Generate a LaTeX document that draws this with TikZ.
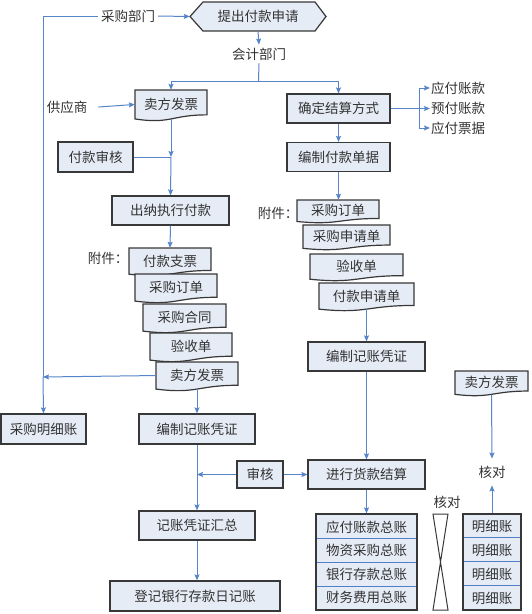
\documentclass[tikz,border=0pt]{standalone}
\usepackage{fontspec}
\setmainfont{Noto Sans CJK SC}
\usetikzlibrary{arrows.meta,calc}
\definecolor{boxfill}{HTML}{E6ECF6}
\definecolor{boxline}{HTML}{383838}
\definecolor{flow}{HTML}{5585C8}
\definecolor{txtc}{HTML}{333333}
\definecolor{sepc}{HTML}{4F7FC6}
\tikzset{
  base/.style={font=\fontsize{13.5}{15}\selectfont, text=txtc, inner sep=0pt},
  box/.style={base, draw=boxline, fill=boxfill, line width=1.2pt},
  docsty/.style={draw=boxline, fill=boxfill, line width=1.2pt},
  docnode/.style={base},
  plain/.style={base},
  flowline/.style={draw=flow, line width=1pt},
  flowarrow/.style={flowline, -{Stealth[length=6pt,width=5pt,inset=1pt]}},
  sepline/.style={draw=sepc, line width=1pt},
}
% name, x1, x2, top, height, text
\newcommand\docshape[6]{%
  \pgfmathsetmacro\dsw{#3-#2}%
  \pgfmathsetmacro\dsh{0.933*#5}%
  \filldraw[docsty] (#2,#4) -- (#3,#4) -- (#3,{#4+0.802*#5})
    .. controls ({(#2+#3)/2},{#4+0.802*#5}) and ({(#2+#3)/2},{#4+1.108*#5}) ..
    (#2,{#4+0.934*#5}) -- cycle;
  \node[docnode, minimum width=\dsw pt, minimum height=\dsh pt] (#1)
    at ({(#2+#3)/2},{#4+0.4665*#5}) {#6};
}
\begin{document}
\begin{tikzpicture}[x=1pt,y=-1pt]
\useasboundingbox (0,0) rectangle (531,614);
\fill[white] (0,0) rectangle (531,614);

% top hexagon
\filldraw[docsty] (190,16.5) -- (203,2) -- (315,2) -- (326,16.5) -- (315,31) -- (203,31) -- cycle;
\node[plain, minimum width=136pt, minimum height=29pt] (apply) at (258,16.5) {提出付款申请};

% texts
\node[plain, inner xsep=3pt] (cgbm) at (128,16) {采购部门};
\node[plain, inner ysep=3pt] (kjbm) at (259,54) {会计部门};
\node[plain, inner xsep=2pt] (gys) at (67,107) {供应商};
\node[plain] (fjL) at (108,258) {附件：};
\node[plain] (fjR) at (278,213) {附件：};
\node[plain, anchor=west, inner xsep=1pt] (yfzk) at (430,88) {应付账款};
\node[plain, anchor=west, inner xsep=1pt] (yufzk) at (430,108) {预付账款};
\node[plain, anchor=west, inner xsep=1pt] (yfpj) at (430,128) {应付票据};
\node[plain] (hd1) at (447,502) {核对};
\node[plain, inner ysep=7pt] (hd2) at (492,472) {核对};

% left column
\docshape{inv1}{135}{207}{90}{31}{卖方发票}
\node[box, minimum width=75pt, minimum height=30pt] (fkss) at (95.5,157) {付款审核};
\node[box, minimum width=117pt, minimum height=29pt] (cnzx) at (170.5,210.5) {出纳执行付款};
\docshape{ld1}{129}{211}{248}{28}{付款支票}
\docshape{ld2}{135}{217}{274}{29}{采购订单}
\docshape{ld3}{143}{226}{304}{29}{采购合同}
\docshape{ld4}{150}{232}{333}{29}{验收单}
\docshape{ld5}{156}{238}{362}{29}{卖方发票}
\node[box, minimum width=85pt, minimum height=30pt] (cgmx) at (43.5,429) {采购明细账};
\node[box, minimum width=116pt, minimum height=30pt] (bzjz1) at (197,429) {编制记账凭证};
\node[box, minimum width=46pt, minimum height=27pt] (sh) at (260,474.5) {审核};
\node[box, minimum width=116pt, minimum height=29pt] (jzhz) at (197,525.5) {记账凭证汇总};
\node[box, minimum width=170pt, minimum height=30pt] (djyh) at (195,596) {登记银行存款日记账};

% right column
\node[box, minimum width=103pt, minimum height=29pt] (qdjs) at (338.5,108.5) {确定结算方式};
\node[box, minimum width=103pt, minimum height=29pt] (bzfk) at (338.5,157) {编制付款单据};
\docshape{rd1}{297}{379}{200}{23}{采购订单}
\docshape{rd2}{303}{390}{225}{25}{采购申请单}
\docshape{rd3}{310}{403}{254}{27}{验收单}
\docshape{rd4}{319}{414}{283}{28}{付款申请单}
\node[box, minimum width=117pt, minimum height=29pt] (bzjz2) at (366.5,356.5) {编制记账凭证};
\node[box, minimum width=117pt, minimum height=29pt] (jxhk) at (366.5,474.5) {进行货款结算};

% ledger stack
\node[box, minimum width=101pt, minimum height=96pt] (ledger) at (366.5,562) {};
\foreach \yy in {538,562,586} \draw[sepline] (317,\yy) -- (416,\yy);
\node[plain] (lg1) at (366.5,527) {应付账款总账};
\node[plain] (lg2) at (366.5,550.5) {物资采购总账};
\node[plain] (lg3) at (366.5,574) {银行存款总账};
\node[plain] (lg4) at (366.5,597.5) {财务费用总账};

% collate shape
\filldraw[draw=boxline, fill=white, line width=1pt] (433,514) -- (448,514) -- (433,610) -- (448,610) -- cycle;

% detail stack
\docshape{inv2}{455}{528}{371}{25}{卖方发票}
\node[box, minimum width=58pt, minimum height=96pt] (detail) at (492,562) {};
\foreach \yy in {537,561,585} \draw[sepline] (464,\yy) -- (520,\yy);
\node[plain] (mx1) at (492,526) {明细账};
\node[plain] (mx2) at (492,550) {明细账};
\node[plain] (mx3) at (492,574) {明细账};
\node[plain] (mx4) at (492,598) {明细账};

% connectors
\coordinate (jL) at (43,377);
\draw[flowline] (jL) |- (cgbm.west);
\draw[flowarrow] (cgbm.east) -- (apply.west);
\draw[flowarrow] (ld5.west) -- (jL);
\draw[flowarrow] (jL) -- (cgmx.north);
\draw[flowarrow] (apply.south) -- (kjbm.north);
\coordinate (split) at (258.5,81);
\draw[flowline] (kjbm.south) -- (split);
\draw[flowarrow] (split) -| (inv1.north);
\draw[flowarrow] (split) -| (qdjs.north);
\draw[flowarrow] ([xshift=9pt]gys.east) -- (inv1.west);
\coordinate (j1) at (inv1.south |- fkss.east);
\draw[flowline] (fkss.east) -- (j1);
\draw[flowarrow] (inv1.south) -- (j1);
\draw[flowarrow] (j1) -- (cnzx.north);
\draw[flowarrow] (cnzx.south) -- (ld1.north);
\draw[flowarrow] (ld5.south) -- (bzjz1.north);
\coordinate (j2) at (bzjz1.south |- sh.west);
\draw[flowarrow] (bzjz1.south) -- (jzhz.north);
\draw[flowarrow] (sh.west) -- (j2);
\draw[flowarrow] (sh.east) -- (jxhk.west);
\draw[flowarrow] (jzhz.south) -- (jzhz.south |- djyh.north);
\coordinate (br) at (419,108.5);
\draw[flowline] (qdjs.east) -- (br);
\draw[flowarrow] (br) |- (yfzk.west);
\draw[flowarrow] (br) -- (yufzk.west |- br);
\draw[flowarrow] (br) |- (yfpj.west);
\draw[flowarrow] (qdjs.south) -- (bzfk.north);
\draw[flowarrow] (bzfk.south) -- (bzfk.south |- rd1.north);
\draw[flowarrow] (rd4.south) -- (bzjz2.north);
\draw[flowarrow] (bzjz2.south) -- (jxhk.north);
\draw[flowarrow] (jxhk.south) -- (ledger.north);
\draw[flowarrow] (inv2.south) -- (hd2.north);
\draw[flowarrow] (detail.north) -- (hd2.south);
\end{tikzpicture}
\end{document}
